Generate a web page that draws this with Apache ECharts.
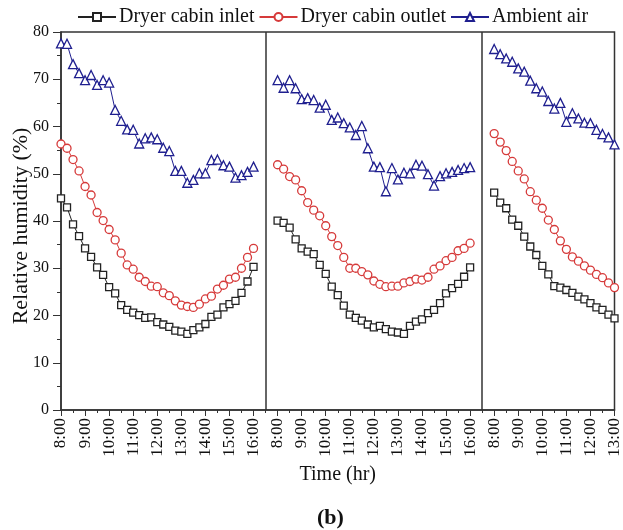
<!DOCTYPE html>
<html>
<head>
<meta charset="utf-8">
<script src="https://cdn.jsdelivr.net/npm/echarts@6/dist/echarts.min.js"></script>
<style>html,body{margin:0;padding:0;background:#fff;}#c{width:623px;height:530px;}</style>
</head>
<body>
<div id="c"></div>
<script>
// Tick labels for the continuous hour axis (three measurement days)
const tickLabels = ['8:00','9:00','10:00','11:00','12:00','13:00','14:00','15:00','16:00',
                    '8:00','9:00','10:00','11:00','12:00','13:00','14:00','15:00','16:00',
                    '8:00','9:00','10:00','11:00','12:00','13:00'];
// Start of each day on the axis (hours) and sampling step (hours)
const dayStart = [0, 9, 18];
const stepHr = 0.25;
const dayEnds = [8.5, 17.5]; // panel separators

// Day 1
const inlet1 = [44.8,42.9,39.3,36.8,34.2,32.4,30.2,28.6,26.0,24.7,22.2,21.2,20.6,20.1,19.5,19.6,18.6,18.1,17.6,16.8,16.6,16.1,16.9,17.5,18.2,19.7,20.2,21.7,22.4,23.1,24.8,27.2,30.3];
const outlet1 = [56.3,55.4,53.0,50.6,47.3,45.5,41.8,40.1,38.2,36.0,33.2,30.7,29.8,28.1,27.2,26.2,26.1,24.8,24.2,23.1,22.2,21.9,21.7,22.4,23.5,24.1,25.6,26.4,27.7,28.1,30.0,32.3,34.2];
const ambient1 = [77.6,77.5,73.2,71.3,69.8,70.9,68.8,69.8,69.3,63.5,61.2,59.4,59.3,56.4,57.5,57.7,57.3,55.5,54.8,50.6,50.6,48.1,48.7,50.1,50.1,52.9,53.0,51.8,51.5,49.2,49.7,50.4,51.5];
// Day 2
const inlet2 = [40.1,39.6,38.6,36.1,34.2,33.5,33.0,30.7,28.8,26.1,24.3,22.1,20.2,19.5,18.9,18.1,17.5,17.8,17.1,16.6,16.4,16.1,17.8,18.7,19.2,20.5,21.2,22.6,24.7,25.8,26.7,28.2,30.2];
const outlet2 = [51.9,51.0,49.4,48.7,46.4,43.9,42.3,41.1,39.0,36.7,34.8,32.3,30.0,30.0,29.3,28.6,27.3,26.6,26.1,26.2,26.2,26.9,27.2,27.7,27.5,28.1,29.8,30.5,31.6,32.3,33.7,34.2,35.3];
const ambient2 = [69.8,68.2,69.8,68.1,65.8,66.0,65.6,64.0,64.6,61.4,61.9,60.7,59.8,58.2,60.1,55.4,51.5,51.4,46.3,51.2,48.8,50.2,50.1,51.9,51.7,49.9,47.5,49.5,50.1,50.4,50.8,51.2,51.4];
// Day 3
const inlet3 = [46.0,43.9,42.7,40.3,39.0,36.7,34.6,32.8,30.5,28.7,26.2,25.9,25.4,24.8,24.0,23.4,22.6,21.7,21.2,20.2,19.4];
const outlet3 = [58.5,56.7,54.9,52.6,50.6,48.9,46.2,44.4,42.7,40.2,38.2,35.8,34.0,32.4,31.5,30.5,29.6,28.7,28.0,26.9,25.9];
const ambient3 = [76.4,75.3,74.4,73.7,72.3,71.6,69.7,68.1,67.4,65.4,63.8,65.0,61.0,62.8,61.7,60.8,60.7,59.3,58.4,57.7,56.2];

const seriesNames = ['Dryer cabin inlet','Dryer cabin outlet','Ambient air'];
const byDay = [[inlet1,outlet1,ambient1],[inlet2,outlet2,ambient2],[inlet3,outlet3,ambient3]];

const FONT = 'Liberation Serif';
const styles = [
  {color:'#222222', symbol:'rect', size:7},
  {color:'#d63a3a', symbol:'circle', size:8},
  {color:'#1f1f8f', symbol:'triangle', size:9}
];

function pairs(arr, start){ return arr.map((v,i)=>[start + i*stepHr, v]); }

const series = [];
byDay.forEach((day, d) => {
  day.forEach((arr, k) => {
    const st = styles[k];
    const s = {
      name: seriesNames[k], type:'line', data: pairs(arr, dayStart[d]),
      symbol: st.symbol, symbolSize: st.size, showAllSymbol: true,
      lineStyle:{color:st.color, width:1},
      itemStyle:{color:'#ffffff', borderColor:st.color, borderWidth:1.3},
      emphasis:{disabled:true}, animation:false, z: 3
    };
    if (d === 0 && k === 0) {
      s.markLine = {
        silent:true, symbol:['none','none'], label:{show:false},
        lineStyle:{color:'#333', type:'solid', width:1.5},
        data: dayEnds.map(x => ({xAxis:x}))
      };
    }
    series.push(s);
  });
});

const chart = echarts.init(document.getElementById('c'));
chart.setOption({
  animation:false,
  backgroundColor:'#fff',
  title:{ text:'(b)', left:312, top:502,
    textStyle:{fontFamily:FONT, fontSize:22, fontWeight:'bold', color:'#111'} },
  legend:{ data: seriesNames, top:2, left:72, itemGap:4, itemWidth:38, itemHeight:10,
    textStyle:{fontFamily:FONT, fontSize:20, color:'#111', padding:[0,0,0,-2]} },
  grid:{ left:61, right:3, top:32, bottom:120, show:true, borderColor:'#333', borderWidth:1.5 },
  graphic:[{ type:'text', x:21, y:226, rotation:Math.PI/2,
    style:{ text:'Relative humidity (%)', fontFamily:FONT, fontSize:22, fill:'#111',
      align:'center', verticalAlign:'middle' } }],
  xAxis:{ type:'value', min:0, max:23, interval:1,
    name:'Time (hr)', nameLocation:'middle', nameGap:52,
    nameTextStyle:{fontFamily:FONT, fontSize:20, color:'#111'},
    axisLine:{lineStyle:{color:'#333', width:1.5}},
    axisTick:{length:6, lineStyle:{color:'#333'}},
    minorTick:{show:true, splitNumber:2, length:3, lineStyle:{color:'#333'}},
    splitLine:{show:false}, minorSplitLine:{show:false},
    axisLabel:{ rotate:90, fontFamily:FONT, fontSize:17, color:'#111', margin:8,
      formatter: v => tickLabels[Math.round(v)] || '' } },
  yAxis:{ type:'value', min:0, max:80, interval:10,
    axisLine:{show:true, lineStyle:{color:'#333', width:1.5}},
    axisTick:{show:true, length:8, lineStyle:{color:'#333'}},
    minorTick:{show:true, splitNumber:2, length:4, lineStyle:{color:'#333'}},
    splitLine:{show:false},
    axisLabel:{ fontFamily:FONT, fontSize:16, color:'#111', margin:12 } },
  series
});
</script>
</body>
</html>
